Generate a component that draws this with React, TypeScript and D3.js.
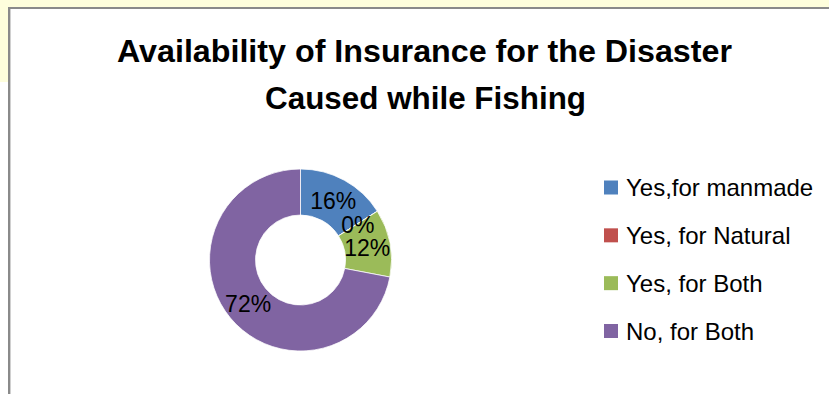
import React from "react";
import * as d3 from "d3";

const categories = ["Yes,for manmade", "Yes, for Natural", "Yes, for Both", "No, for Both"];
const values = [16, 0, 12, 72];
const colors = ["#4F81BD", "#C0504D", "#9BBB59", "#8064A2"];
const titleLines = ["Availability of Insurance for the Disaster", "Caused while Fishing"];

const W = 829;
const H = 394;
const FONT = "'Liberation Sans', Arial, sans-serif";

export default function App() {
  const cx = 300.5;
  const cy = 260;
  const rOuter = 91;
  const rInner = 45;
  const total = d3.sum(values);
  const pie = d3.pie<number>().sort(null).value((d) => d)(values);
  const arc = d3.arc<d3.PieArcDatum<number>>().innerRadius(rInner).outerRadius(rOuter);

  const legendY = d3.scaleLinear().domain([0, 3]).range([187.5, 331]);

  return (
    <div style={{ position: "fixed", left: 0, top: 0 }}>
      <svg width={W} height={H} style={{ display: "block" }}>
        <rect x={0} y={0} width={W} height={H} fill="#ffffff" />
        <rect x={0} y={0} width={W} height={8} fill="#FEFEDC" />
        <rect x={0} y={0} width={8} height={82} fill="#FEFEDC" />
        <line x1={8} y1={8} x2={W} y2={8} stroke="#8a8a8a" strokeWidth={2} />
        <line x1={9} y1={8} x2={9} y2={H} stroke="#8a8a8a" strokeWidth={2} />
        <line x1={10.5} y1={9} x2={10.5} y2={H} stroke="#d0d0d0" strokeWidth={1} />

        <text x={424.5} y={62} textAnchor="middle" fontFamily={FONT} fontWeight="bold" fontSize={31}
          textLength={615} lengthAdjust="spacingAndGlyphs" fill="#000">{titleLines[0]}</text>
        <text x={425.5} y={108.5} textAnchor="middle" fontFamily={FONT} fontWeight="bold" fontSize={31}
          textLength={321} lengthAdjust="spacingAndGlyphs" fill="#000">{titleLines[1]}</text>

        <g transform={`translate(${cx},${cy})`}>
          {pie.map((p, i) => (
            <path key={i} d={arc(p) || ""} fill={colors[i]} stroke="#ffffff" strokeWidth={0.75} />
          ))}
          {pie.map((p, i) => {
            const [lx, ly] = arc.centroid(p);
            return (
              <text key={"l" + i} x={lx} y={ly + 9} textAnchor="middle" fontFamily={FONT} fontSize={23} fill="#000">
                {Math.round((values[i] / total) * 100) + "%"}
              </text>
            );
          })}
        </g>

        {categories.map((c, i) => (
          <g key={c}>
            <rect x={604} y={legendY(i) - 7} width={14} height={14} fill={colors[i]} />
            <text x={626} y={legendY(i) + 8.5} fontFamily={FONT} fontSize={24} fill="#000">{c}</text>
          </g>
        ))}
      </svg>
    </div>
  );
}
